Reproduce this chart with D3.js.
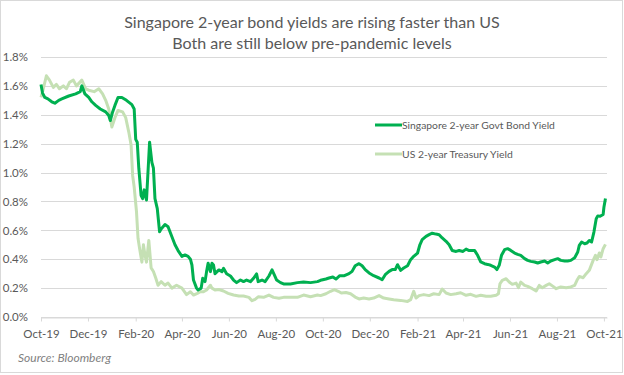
<!DOCTYPE html>
<html>
<head>
<meta charset="utf-8">
<script src="https://cdn.jsdelivr.net/npm/d3@7"></script>
<style>
    body { margin: 0; background: #fff; }
    text { font-family: Lato, "Liberation Sans", sans-serif; fill: #595959; }
</style>
</head>
<body>
<script>
// chart text
var titleLines = ["Singapore 2-year bond yields are rising faster than US",
                  "Both are still below pre-pandemic levels"];
var seriesNames = ["Singapore 2-year Govt Bond Yield", "US 2-year Treasury Yield"];
var sourceNote = "Source: Bloomberg";

// y ticks (percent) and x ticks (every 2 months)
var yTicks = [0, 0.2, 0.4, 0.6, 0.8, 1.0, 1.2, 1.4, 1.6, 1.8];
var xTickDates = ["2019-10-01", "2019-12-01", "2020-02-01", "2020-04-01",
                  "2020-06-01", "2020-08-01", "2020-10-01", "2020-12-01",
                  "2021-02-01", "2021-04-01", "2021-06-01", "2021-08-01",
                  "2021-10-01"];

// Singapore 2-year govt bond yield, %
var sgYield = [
    ["2019-10-01", 1.61], ["2019-10-03", 1.55], ["2019-10-06", 1.52],
    ["2019-10-10", 1.51], ["2019-10-15", 1.49], ["2019-10-19", 1.48],
    ["2019-10-24", 1.50], ["2019-10-28", 1.51], ["2019-11-06", 1.53],
    ["2019-11-15", 1.545], ["2019-11-21", 1.56], ["2019-11-23", 1.60],
    ["2019-11-27", 1.545], ["2019-12-02", 1.52], ["2019-12-06", 1.49],
    ["2019-12-11", 1.465], ["2019-12-17", 1.44], ["2019-12-24", 1.42],
    ["2019-12-28", 1.395], ["2019-12-30", 1.36], ["2020-01-02", 1.42],
    ["2020-01-05", 1.465], ["2020-01-09", 1.52], ["2020-01-14", 1.52],
    ["2020-01-20", 1.50], ["2020-01-27", 1.47], ["2020-01-30", 1.44],
    ["2020-02-01", 1.23], ["2020-02-03", 1.21], ["2020-02-05", 1.03],
    ["2020-02-08", 0.84], ["2020-02-10", 0.82], ["2020-02-12", 0.88],
    ["2020-02-15", 0.81], ["2020-02-19", 1.21], ["2020-02-22", 1.07],
    ["2020-02-24", 1.03], ["2020-02-26", 0.82], ["2020-02-29", 0.75],
    ["2020-03-03", 0.59], ["2020-03-05", 0.61], ["2020-03-10", 0.64],
    ["2020-03-14", 0.625], ["2020-03-19", 0.556], ["2020-03-23", 0.50],
    ["2020-03-27", 0.46], ["2020-04-01", 0.42], ["2020-04-05", 0.43],
    ["2020-04-09", 0.42], ["2020-04-12", 0.40], ["2020-04-14", 0.36],
    ["2020-04-16", 0.256], ["2020-04-20", 0.20], ["2020-04-22", 0.187],
    ["2020-04-26", 0.20], ["2020-04-28", 0.268], ["2020-05-01", 0.245],
    ["2020-05-03", 0.314], ["2020-05-05", 0.372], ["2020-05-08", 0.314],
    ["2020-05-10", 0.372], ["2020-05-12", 0.36], ["2020-05-14", 0.30],
    ["2020-05-19", 0.326], ["2020-05-23", 0.314], ["2020-05-25", 0.337],
    ["2020-05-29", 0.30], ["2020-06-03", 0.284], ["2020-06-07", 0.256],
    ["2020-06-11", 0.238], ["2020-06-16", 0.256], ["2020-06-20", 0.245],
    ["2020-06-24", 0.256], ["2020-06-29", 0.245], ["2020-07-03", 0.268],
    ["2020-07-07", 0.298], ["2020-07-09", 0.245], ["2020-07-14", 0.256],
    ["2020-07-18", 0.245], ["2020-07-23", 0.284], ["2020-07-27", 0.326],
    ["2020-07-30", 0.291], ["2020-08-02", 0.256], ["2020-08-07", 0.238],
    ["2020-08-11", 0.229], ["2020-08-20", 0.229], ["2020-08-29", 0.238],
    ["2020-09-06", 0.242], ["2020-09-15", 0.238], ["2020-09-24", 0.245],
    ["2020-09-28", 0.254], ["2020-10-05", 0.263], ["2020-10-09", 0.27],
    ["2020-10-14", 0.277], ["2020-10-18", 0.263], ["2020-10-23", 0.286],
    ["2020-10-29", 0.286], ["2020-11-04", 0.30], ["2020-11-08", 0.316],
    ["2020-11-12", 0.355], ["2020-11-17", 0.369], ["2020-11-21", 0.355],
    ["2020-11-25", 0.328], ["2020-11-30", 0.305], ["2020-12-06", 0.286],
    ["2020-12-13", 0.27], ["2020-12-17", 0.258], ["2020-12-21", 0.293],
    ["2020-12-26", 0.316], ["2020-12-30", 0.328], ["2021-01-03", 0.328],
    ["2021-01-06", 0.362], ["2021-01-10", 0.323], ["2021-01-14", 0.339],
    ["2021-01-19", 0.355], ["2021-01-23", 0.397], ["2021-01-27", 0.42],
    ["2021-02-01", 0.443], ["2021-02-04", 0.50], ["2021-02-07", 0.535],
    ["2021-02-12", 0.558], ["2021-02-16", 0.57], ["2021-02-20", 0.58],
    ["2021-02-25", 0.574], ["2021-03-01", 0.57], ["2021-03-05", 0.547],
    ["2021-03-10", 0.524], ["2021-03-14", 0.50], ["2021-03-18", 0.46],
    ["2021-03-23", 0.454], ["2021-03-27", 0.46], ["2021-04-01", 0.454],
    ["2021-04-05", 0.47], ["2021-04-09", 0.46], ["2021-04-16", 0.461],
    ["2021-04-20", 0.427], ["2021-04-24", 0.381], ["2021-04-29", 0.369],
    ["2021-05-03", 0.364], ["2021-05-07", 0.358], ["2021-05-12", 0.346],
    ["2021-05-15", 0.328], ["2021-05-18", 0.358], ["2021-05-21", 0.427],
    ["2021-05-25", 0.466], ["2021-05-29", 0.473], ["2021-06-02", 0.461],
    ["2021-06-07", 0.443], ["2021-06-11", 0.434], ["2021-06-15", 0.427],
    ["2021-06-20", 0.404], ["2021-06-24", 0.392], ["2021-06-28", 0.385],
    ["2021-07-03", 0.381], ["2021-07-07", 0.374], ["2021-07-11", 0.381],
    ["2021-07-16", 0.388], ["2021-07-20", 0.374], ["2021-07-24", 0.388],
    ["2021-07-29", 0.397], ["2021-08-02", 0.404], ["2021-08-06", 0.392],
    ["2021-08-11", 0.388], ["2021-08-15", 0.388], ["2021-08-19", 0.392],
    ["2021-08-24", 0.41], ["2021-08-28", 0.45], ["2021-08-30", 0.496],
    ["2021-09-02", 0.519], ["2021-09-06", 0.507], ["2021-09-09", 0.512],
    ["2021-09-12", 0.53], ["2021-09-15", 0.519], ["2021-09-18", 0.588],
    ["2021-09-21", 0.68], ["2021-09-23", 0.70], ["2021-09-26", 0.697],
    ["2021-09-30", 0.71], ["2021-10-01", 0.76], ["2021-10-03", 0.82]
];

// US 2-year treasury yield, %
var usYield = [
    ["2019-10-01", 1.52], ["2019-10-04", 1.58], ["2019-10-08", 1.67],
    ["2019-10-12", 1.64], ["2019-10-17", 1.59], ["2019-10-21", 1.61],
    ["2019-10-25", 1.58], ["2019-10-30", 1.60], ["2019-11-03", 1.58],
    ["2019-11-07", 1.625], ["2019-11-12", 1.64], ["2019-11-16", 1.60],
    ["2019-11-23", 1.64], ["2019-11-28", 1.58], ["2019-12-02", 1.57],
    ["2019-12-09", 1.56], ["2019-12-15", 1.58], ["2019-12-20", 1.545],
    ["2019-12-24", 1.50], ["2019-12-28", 1.44], ["2020-01-01", 1.315],
    ["2020-01-05", 1.38], ["2020-01-09", 1.43], ["2020-01-15", 1.42],
    ["2020-01-19", 1.38], ["2020-01-23", 1.28], ["2020-01-26", 1.19],
    ["2020-01-28", 0.98], ["2020-01-30", 0.90], ["2020-02-02", 0.73],
    ["2020-02-04", 0.545], ["2020-02-06", 0.475], ["2020-02-09", 0.38],
    ["2020-02-11", 0.50], ["2020-02-13", 0.43], ["2020-02-15", 0.38],
    ["2020-02-18", 0.53], ["2020-02-21", 0.34], ["2020-02-24", 0.315],
    ["2020-02-27", 0.27], ["2020-03-01", 0.22], ["2020-03-05", 0.245],
    ["2020-03-10", 0.22], ["2020-03-14", 0.235], ["2020-03-19", 0.20],
    ["2020-03-25", 0.22], ["2020-04-01", 0.20], ["2020-04-07", 0.155],
    ["2020-04-12", 0.175], ["2020-04-16", 0.152], ["2020-04-21", 0.164],
    ["2020-04-25", 0.175], ["2020-04-29", 0.175], ["2020-05-03", 0.187],
    ["2020-05-08", 0.22], ["2020-05-10", 0.20], ["2020-05-14", 0.187],
    ["2020-05-19", 0.19], ["2020-05-25", 0.18], ["2020-05-31", 0.164],
    ["2020-06-07", 0.152], ["2020-06-14", 0.145], ["2020-06-20", 0.145],
    ["2020-06-27", 0.136], ["2020-07-01", 0.113], ["2020-07-05", 0.122],
    ["2020-07-09", 0.14], ["2020-07-16", 0.136], ["2020-07-23", 0.152],
    ["2020-07-29", 0.136], ["2020-08-05", 0.13], ["2020-08-11", 0.136],
    ["2020-08-20", 0.136], ["2020-08-29", 0.136], ["2020-09-06", 0.152],
    ["2020-09-15", 0.14], ["2020-09-24", 0.152], ["2020-09-28", 0.148],
    ["2020-10-05", 0.161], ["2020-10-11", 0.178], ["2020-10-16", 0.19],
    ["2020-10-21", 0.178], ["2020-10-25", 0.166], ["2020-10-31", 0.17],
    ["2020-11-06", 0.161], ["2020-11-12", 0.138], ["2020-11-17", 0.125],
    ["2020-11-23", 0.131], ["2020-11-30", 0.125], ["2020-12-06", 0.131],
    ["2020-12-13", 0.148], ["2020-12-19", 0.131], ["2020-12-26", 0.125],
    ["2021-01-01", 0.12], ["2021-01-10", 0.115], ["2021-01-19", 0.108],
    ["2021-01-23", 0.12], ["2021-01-27", 0.178], ["2021-01-30", 0.131],
    ["2021-02-03", 0.148], ["2021-02-09", 0.155], ["2021-02-16", 0.148],
    ["2021-02-22", 0.161], ["2021-03-01", 0.155], ["2021-03-05", 0.194],
    ["2021-03-10", 0.166], ["2021-03-16", 0.155], ["2021-03-23", 0.161],
    ["2021-03-29", 0.168], ["2021-04-05", 0.15], ["2021-04-11", 0.157],
    ["2021-04-18", 0.143], ["2021-04-24", 0.15], ["2021-05-01", 0.143],
    ["2021-05-07", 0.143], ["2021-05-14", 0.15], ["2021-05-17", 0.161],
    ["2021-05-19", 0.23], ["2021-05-22", 0.254], ["2021-05-27", 0.265],
    ["2021-05-31", 0.242], ["2021-06-04", 0.226], ["2021-06-09", 0.235],
    ["2021-06-12", 0.203], ["2021-06-15", 0.242], ["2021-06-20", 0.219],
    ["2021-06-24", 0.212], ["2021-06-30", 0.196], ["2021-07-05", 0.18],
    ["2021-07-09", 0.219], ["2021-07-13", 0.203], ["2021-07-18", 0.219],
    ["2021-07-22", 0.23], ["2021-07-27", 0.212], ["2021-07-31", 0.196],
    ["2021-08-06", 0.208], ["2021-08-13", 0.203], ["2021-08-19", 0.208],
    ["2021-08-24", 0.219], ["2021-08-27", 0.254], ["2021-08-30", 0.281],
    ["2021-09-04", 0.272], ["2021-09-08", 0.30], ["2021-09-12", 0.323],
    ["2021-09-17", 0.392], ["2021-09-20", 0.427], ["2021-09-22", 0.397],
    ["2021-09-25", 0.443], ["2021-09-27", 0.415], ["2021-09-30", 0.473],
    ["2021-10-03", 0.503]
];

var colors = ["#00b050", "#c5e0b4"];

var W = 624, H = 375;
var margin = {top: 57, right: 17, bottom: 58, left: 41},
    width = W - margin.left - margin.right,
    height = H - margin.top - margin.bottom;

var parseDate = d3.timeParse("%Y-%m-%d");

var svg = d3.select("body").append("svg")
    .attr("width", W)
    .attr("height", H);

// light frame round the whole chart
svg.append("rect")
    .attr("x", 0.5).attr("y", 0.5)
    .attr("width", W - 2).attr("height", H - 3)
    .attr("fill", "#fff")
    .attr("stroke", "#d9d9d9");

// shrink or grow a text until it spans the width seen in the picture
function fitWidth(sel, target) {
    var w = sel.node().getComputedTextLength();
    var fs = parseFloat(sel.attr("font-size"));
    sel.attr("font-size", (fs * target / w).toFixed(2));
}

// title: both lines share the size fitted on the first one
var titles = titleLines.map(function(t, i) {
    return svg.append("text")
        .attr("x", W / 2)
        .attr("y", 28 + i * 21)
        .attr("text-anchor", "middle")
        .attr("font-size", 16)
        .text(t);
});
fitWidth(titles[0], 376);
titles[1].attr("font-size", titles[0].attr("font-size"));

var g = svg.append("g")
    .attr("transform", "translate(" + margin.left + "," + margin.top + ")");

var xScale = d3.scaleTime()
    .domain([parseDate("2019-10-01"), parseDate("2021-10-05")])
    .range([0, width]);

var yScale = d3.scaleLinear()
    .domain([0, 1.8])
    .range([height, 0]);

// gridlines
g.append("g")
    .selectAll("line")
    .data(yTicks)
    .enter()
    .append("line")
    .attr("x1", 0)
    .attr("x2", width)
    .attr("y1", function(d) { return Math.round(yScale(d)) + 0.5; })
    .attr("y2", function(d) { return Math.round(yScale(d)) + 0.5; })
    .attr("stroke", "#d9d9d9")
    .attr("stroke-width", 1);

// y axis labels
var yAxis = d3.axisLeft(yScale)
    .tickValues(yTicks)
    .tickSize(0)
    .tickPadding(13)
    .tickFormat(function(d) { return d3.format(".1f")(d) + "%"; });

var yG = g.append("g").call(yAxis);
yG.select(".domain").remove();
yG.selectAll("text")
    .attr("font-size", 11.5)
    .style("font-family", "Lato, sans-serif")
    .attr("fill", "#595959");

// x axis
var xAxis = d3.axisBottom(xScale)
    .tickValues(xTickDates.map(parseDate))
    .tickFormat(d3.timeFormat("%b-%y"))
    .tickSize(4)
    .tickSizeOuter(0)
    .tickPadding(8);

var xG = g.append("g")
    .attr("transform", "translate(0," + (Math.round(height) + 0.5) + ")")
    .call(xAxis);
xG.select(".domain").attr("stroke", "#d9d9d9");
xG.selectAll(".tick line").attr("stroke", "#d9d9d9");
xG.selectAll("text")
    .attr("font-size", 11.5)
    .style("font-family", "Lato, sans-serif")
    .attr("fill", "#595959");

// lines
var line = d3.line()
    .x(function(d) { return xScale(parseDate(d[0])); })
    .y(function(d) { return yScale(d[1]); });

[usYield, sgYield].forEach(function(series, i) {
    g.append("path")
        .datum(series)
        .attr("fill", "none")
        .attr("stroke", colors[1 - i])
        .attr("stroke-width", 3)
        .attr("stroke-linejoin", "round")
        .attr("d", line);
});

// legend
var legendWidths = [153, 111];
seriesNames.forEach(function(name, i) {
    var ly = 125 + i * 29;
    svg.append("line")
        .attr("x1", 375).attr("x2", 402)
        .attr("y1", ly).attr("y2", ly)
        .attr("stroke", colors[i])
        .attr("stroke-width", 3);
    var lt = svg.append("text")
        .attr("x", 402)
        .attr("y", ly)
        .attr("dy", "0.35em")
        .attr("font-size", 11)
        .text(name);
    fitWidth(lt, legendWidths[i]);
});

// source note
svg.append("text")
    .attr("x", 18)
    .attr("y", 362)
    .attr("font-size", 12)
    .attr("font-style", "italic")
    .style("fill", "#7f7f7f")
    .text(sourceNote);
</script>
</body>
</html>
